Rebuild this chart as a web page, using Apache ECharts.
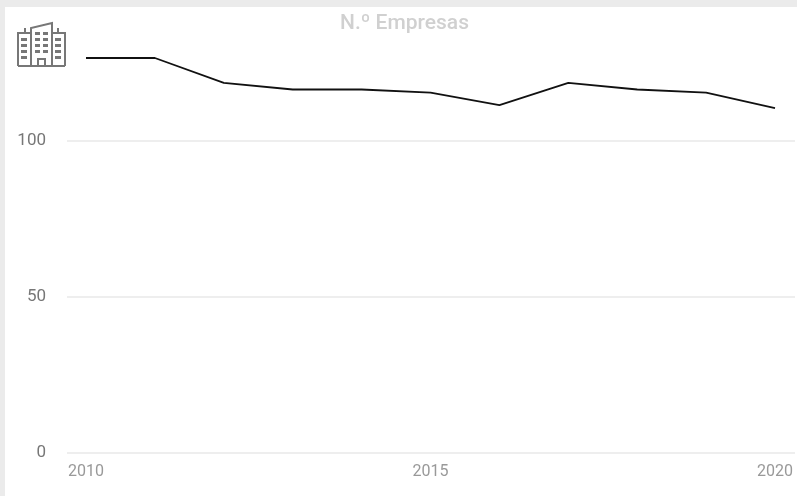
<!DOCTYPE html>
<html><head><meta charset="utf-8">
<style>html,body{margin:0;padding:0;background:#ebebeb;overflow:hidden}
#bg{position:absolute;left:5px;top:7px;width:792px;height:489px;background:#fff}
#c{position:absolute;left:0;top:0;width:797px;height:496px}</style>
<script src="https://cdn.jsdelivr.net/npm/echarts@6/dist/echarts.min.js"></script>
</head><body><div id="bg"></div><div id="c"></div>
<script>
const years=[2010,2011,2012,2013,2014,2015,2016,2017,2018,2019,2020];
const empresas=[126.6,126.6,118.6,116.5,116.5,115.5,111.5,118.6,116.5,115.5,110.5];
const xTicks=[2010,2015,2020];
const titleText='N.º Empresas';
const ic='#777';
const stroke={stroke:ic,lineWidth:2,fill:'none'};
const g=[];
const poly=p=>g.push({type:'polyline',shape:{points:p},style:stroke,silent:true});
poly([[18,66],[65,66]]);
poly([[18,66],[18,33],[31,33]]);poly([[65,66],[65,33],[52,33]]);
poly([[31,66],[31,28],[52,23],[52,66]]);
poly([[25,33],[25,28]]);poly([[58,33],[58,28]]);
poly([[38,66],[38,59],[45,59],[45,66]]);
[[21,38],[21,44],[21,50],[21,56],[55,38],[55,44],[55,50],[55,56]].forEach(([x,y])=>g.push({type:'rect',shape:{x,y,width:6,height:3},style:{fill:ic},silent:true}));
[[35,32],[43,32],[35,38],[43,38],[35,44],[43,44],[35,50],[43,50]].forEach(([x,y])=>g.push({type:'rect',shape:{x,y,width:5,height:3},style:{fill:ic},silent:true}));
const chart=echarts.init(document.getElementById('c'),null,{renderer:'canvas'});
chart.setOption({
 animation:false,backgroundColor:'transparent',
 title:{text:titleText,left:399.5,top:8,textAlign:'center',textStyle:{fontFamily:'Roboto',fontSize:21,fontWeight:500,color:'#d0d0d0'}},
 grid:{left:67,right:2,top:-15,bottom:43,outerBoundsMode:'none'},
 xAxis:{type:'value',min:2009.724,max:2020.29,
  axisLine:{show:false},axisTick:{show:false},splitLine:{show:false},
  axisLabel:{customValues:xTicks,formatter:v=>String(v),fontFamily:'Roboto',fontSize:16,color:'#999',margin:11}},
 yAxis:{type:'value',min:0,max:150,interval:50,
  axisLine:{show:false},axisTick:{show:false},
  splitLine:{lineStyle:{color:'#eeeeee',width:2}},
  axisLabel:{fontFamily:'Roboto',fontSize:17,color:'#777',margin:21,padding:[3,0,0,0]}},
 graphic:g,
 series:[{type:'line',data:years.map((y,i)=>[y,empresas[i]]),symbol:'none',lineStyle:{color:'#111',width:1.8}}]
});
</script></body></html>
